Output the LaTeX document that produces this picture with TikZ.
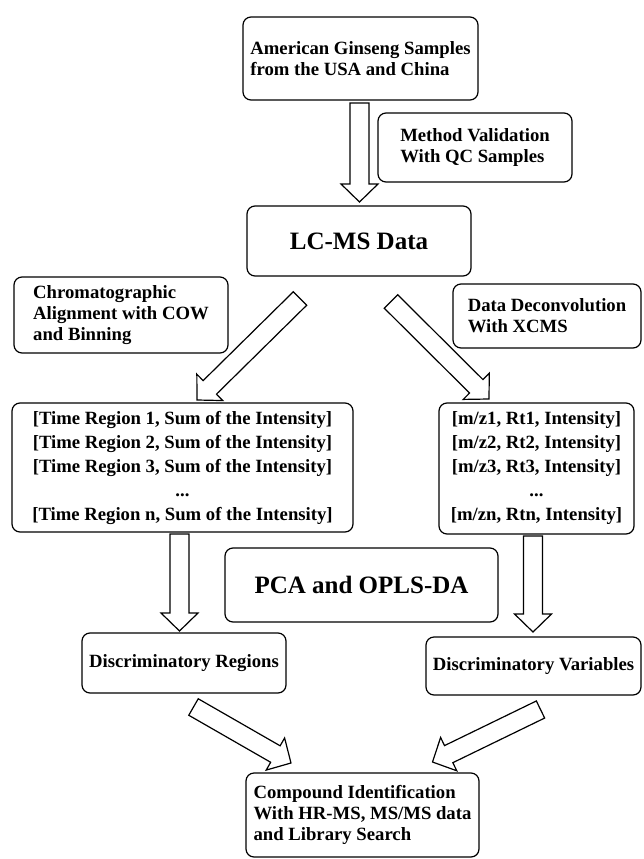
\documentclass[tikz,border=0pt]{standalone}
\usepackage{fontspec}
\setmainfont{Liberation Serif}
\usetikzlibrary{calc}

\tikzset{
    box/.style={draw, rounded corners=8pt, line width=1.2pt, inner sep=0pt,
        font=\fontsize{18.7}{21}\selectfont\bfseries},
    bigbox/.style={box, font=\fontsize{25}{30}\selectfont\bfseries},
    hollow/.style={draw, line width=1.2pt, fill=white, line join=miter},
}

% block arrow from tail #1 to tip #2
\newcommand{\hollowarrow}[2]{%
    \draw[hollow] ($(#1)!9.5pt!90:(#2)$)
        -- ($(#2)!18pt!(#1)!9.5pt!90:(#2)$)
        -- ($(#2)!18pt!(#1)!18.5pt!90:(#2)$)
        -- (#2)
        -- ($(#2)!18pt!(#1)!18.5pt!-90:(#2)$)
        -- ($(#2)!18pt!(#1)!9.5pt!-90:(#2)$)
        -- ($(#1)!9.5pt!-90:(#2)$) -- cycle;}

\begin{document}
\begin{tikzpicture}[x=1pt,y=-1pt]
            \path[fill=white] (0,0) rectangle (643,859);
            \useasboundingbox (0,0) rectangle (643,859);

            \node[box, align=left, minimum width=235pt, minimum height=83pt] (samples) at (360.5,58.5)
                {American Ginseng Samples\\from the USA and China};
            \node[box, align=left, minimum width=194pt, minimum height=69pt] (valid) at (475,147.5)
                {Method Validation\\With QC Samples};
            \node[bigbox, minimum width=224pt, minimum height=70pt] (lcms) at (359,241) {LC-MS Data};

            \node[box, align=left, minimum width=214pt, minimum height=76pt] (align) at (121,315)
                {Chromatographic\\Alignment with COW\\and Binning};
            \node[box, align=left, minimum width=188pt, minimum height=64pt] (deconv) at (547,316)
                {Data Deconvolution\\With XCMS};

            \node[box, align=center, minimum width=341pt, minimum height=129pt,
                font=\fontsize{18.7}{24}\selectfont\bfseries] (regions) at (182.5,467.5)
                {[Time Region 1, Sum of the Intensity]\\{}%
                 [Time Region 2, Sum of the Intensity]\\{}%
                 [Time Region 3, Sum of the Intensity]\\
                 ...\\{}%
                 [Time Region n, Sum of the Intensity]};
            \node[box, align=center, minimum width=195pt, minimum height=131pt,
                font=\fontsize{18.7}{24}\selectfont\bfseries] (variables) at (536.5,468.5)
                {[m/z1, Rt1, Intensity]\\{}%
                 [m/z2, Rt2, Intensity]\\{}%
                 [m/z3, Rt3, Intensity]\\
                 ...\\{}%
                 [m/zn, Rtn, Intensity]};

            \node[bigbox, minimum width=273pt, minimum height=74pt] (pca) at (361.5,585) {PCA and OPLS-DA};

            \node[box, minimum width=204pt, minimum height=60pt] (discreg) at (184,663) {Discriminatory Regions};
            \node[box, minimum width=215pt, minimum height=58pt] (discvar) at (533.5,666) {Discriminatory Variables};

            \node[box, align=left, minimum width=233pt, minimum height=84pt] (ident) at (362.5,815)
                {Compound Identification\\With HR-MS, MS/MS data\\and Library Search};

            % arrow ends
            \coordinate (s1) at (359.5,103);   \coordinate (e1) at (359.5,202);
            \coordinate (s2) at (300,298.5);   \coordinate (e2) at (197,400);
            \coordinate (s3) at (391,301.5);   \coordinate (e3) at (489,399);
            \coordinate (s4) at (179.5,534);   \coordinate (e4) at (179.5,631);
            \coordinate (s5) at (533,536);     \coordinate (e5) at (533,632);
            \coordinate (s6) at (193.5,707);   \coordinate (e6) at (291,763);
            \coordinate (s7) at (540.5,709.5); \coordinate (e7) at (432.5,762);

            \foreach \i in {1,...,7}
                {
                    \hollowarrow{s\i}{e\i}
                }
\end{tikzpicture}
\end{document}
